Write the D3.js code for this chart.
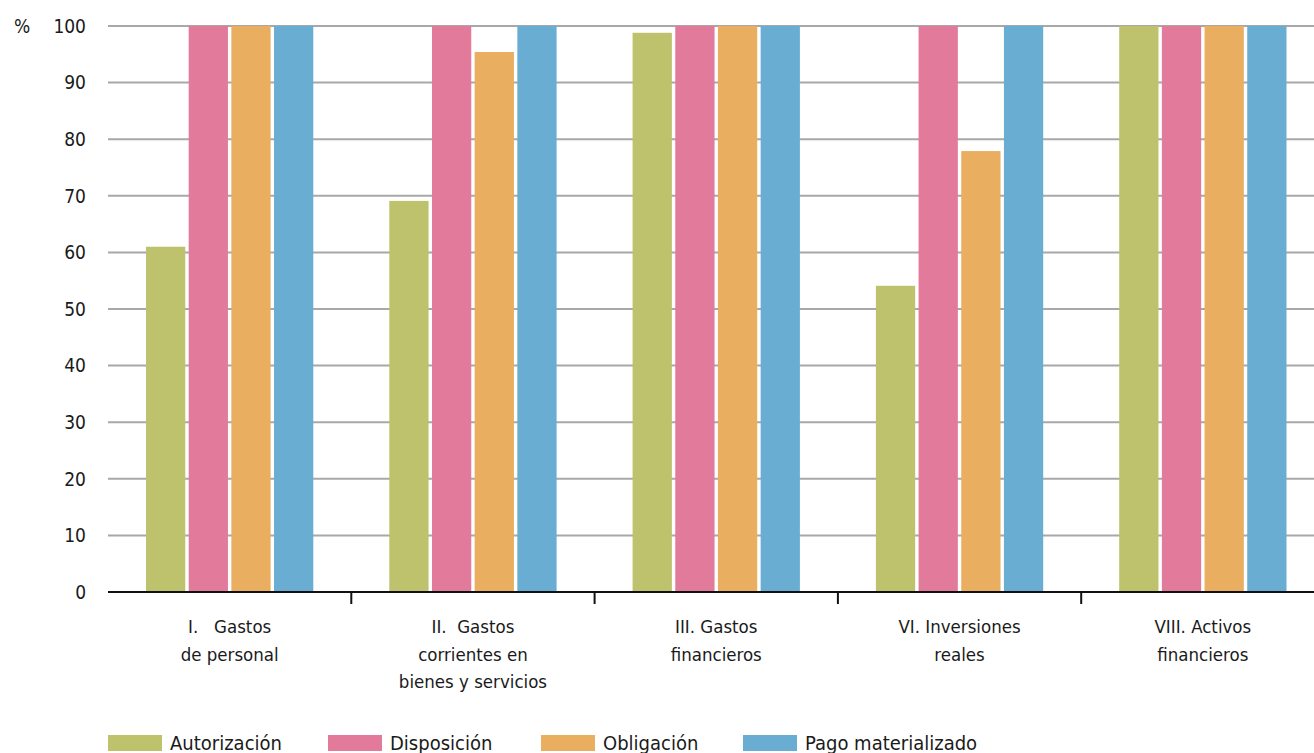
<!DOCTYPE html>
<html><head><meta charset="utf-8">
<script src="https://cdn.jsdelivr.net/npm/d3@7"></script>
<style>
body{margin:0;background:#fff;}
text{font-family:"Liberation Sans Narrow","DejaVu Sans Condensed","Roboto",sans-serif;fill:#1a1a1a;}
</style></head><body>
<svg id="c" width="1314" height="753"></svg>
<script>
const categories = [
  ["I.   Gastos","de personal"],
  ["II.  Gastos","corrientes en","bienes y servicios"],
  ["III. Gastos","financieros"],
  ["VI. Inversiones","reales"],
  ["VIII. Activos","financieros"]
];
const seriesNames = ["Autorización","Disposición","Obligación","Pago materializado"];
const seriesColors = ["#bec26c","#e27a9b","#e9ae60","#69aed2"];
const autorizacion = [61, 69.1, 98.8, 54.1, 100];
const disposicion = [100, 100, 100, 100, 100];
const obligacion = [100, 95.4, 100, 77.9, 100];
const pago = [100, 100, 100, 100, 100];
const yTicks = [0,10,20,30,40,50,60,70,80,90,100];

const series = [autorizacion, disposicion, obligacion, pago];
const svg = d3.select("#c");
const plotLeft = 108, bandW = 243.3, plotTop = 26, plotBottom = 592;
const x = d3.scaleBand().domain(d3.range(categories.length)).range([plotLeft, plotLeft + bandW*categories.length]).padding(0);
const y = d3.scaleLinear().domain([0,100]).range([plotBottom, plotTop]);
const inner = d3.scaleBand().domain(d3.range(4)).range([38, bandW-38]).paddingInner(0.08);

// grid
svg.append("g").selectAll("line").data(yTicks.filter(d=>d>0)).join("line")
  .attr("x1", plotLeft).attr("x2", 1314).attr("y1", d=>y(d)).attr("y2", d=>y(d))
  .attr("stroke","#a8a8a8").attr("stroke-width",2);

// y labels
svg.append("g").selectAll("text").data(yTicks).join("text")
  .attr("x", 86).attr("y", d=>y(d)).attr("dy","0.36em").attr("text-anchor","end")
  .attr("font-size",19).text(d=>d);
svg.append("text").attr("x",14).attr("y",y(100)).attr("dy","0.36em").attr("font-size",19).text("%");

// bars
const g = svg.append("g");
series.forEach((s, si) => {
  g.selectAll(null).data(s).join("rect")
    .attr("x", (d,i)=>x(i)+inner(si)).attr("width", inner.bandwidth())
    .attr("y", d=>y(d)).attr("height", d=>y(0)-y(d))
    .attr("fill", seriesColors[si]);
});

// axis
svg.append("line").attr("x1",plotLeft).attr("x2",1314).attr("y1",y(0)).attr("y2",y(0)).attr("stroke","#111").attr("stroke-width",2);
svg.append("g").selectAll("line").data(d3.range(1,categories.length)).join("line")
  .attr("x1", d=>x(d)).attr("x2", d=>x(d)).attr("y1", y(0)).attr("y2", y(0)+12)
  .attr("stroke","#111").attr("stroke-width",2);

// category labels
categories.forEach((lines,i) => {
  const t = svg.append("text").attr("text-anchor","middle").attr("font-size",18.5)
    .attr("x", x(i)+bandW/2).attr("y", 633).style("white-space","pre");
  lines.forEach((l,k)=>{
    t.append("tspan").attr("x", x(i)+bandW/2).attr("dy", k===0?0:27.5).text(l);
  });
});

// legend
const legX = [108, 328, 541, 743];
seriesNames.forEach((n,i)=>{
  svg.append("rect").attr("x",legX[i]).attr("y",735).attr("width",54).attr("height",16).attr("fill",seriesColors[i]);
  svg.append("text").attr("x",legX[i]+62).attr("y",750).attr("font-size",20).text(n);
});
</script></body></html>
